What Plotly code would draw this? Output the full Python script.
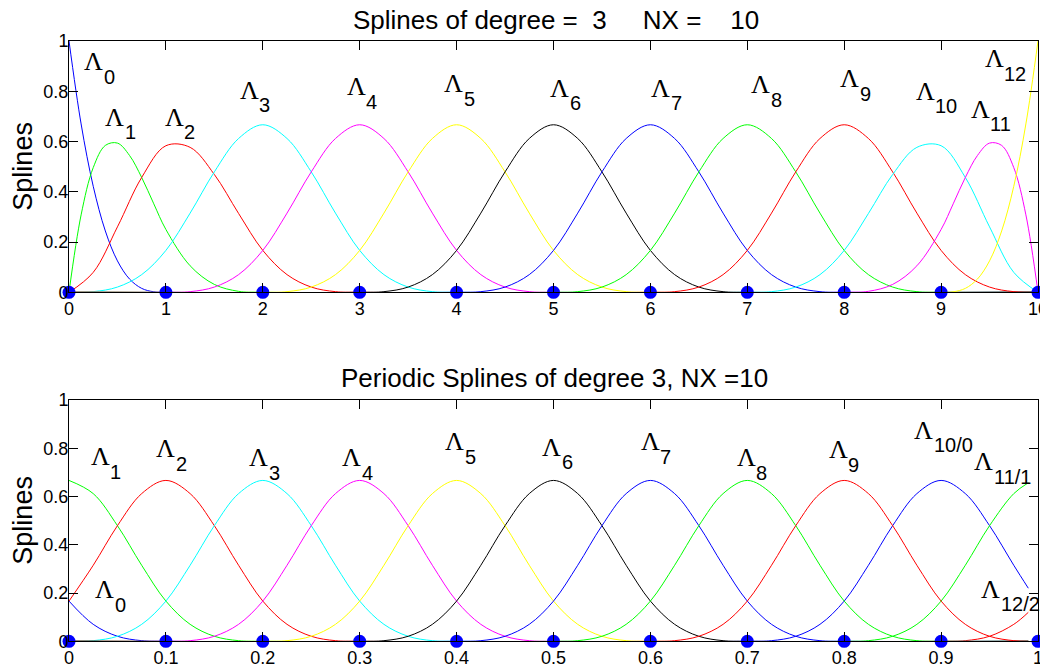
import plotly.graph_objects as go

W, H = 1048, 668          # browser window
OFF = 8                   # page body margin pushes the figure 8 px right and down
FW, FH = W - OFF, H - OFF
COLORS = ["#0000ff", "#00ff00", "#ff0000", "#00ffff", "#ff00ff", "#ffff00", "#000000"]

# ---- data ----
# interior cubic spline shape: offset (in knot spacings) from its peak, and height
bump_offsets = [-2, -1.75, -1.5, -1.25, -1, -0.75, -0.5, -0.25, 0,
                0.25, 0.5, 0.75, 1, 1.25, 1.5, 1.75, 2]
bump_values = [0, 0.0026, 0.0208, 0.0703, 0.1667, 0.3151, 0.4792, 0.6120, 0.6667,
               0.6120, 0.4792, 0.3151, 0.1667, 0.0703, 0.0208, 0.0026, 0]

# top panel (clamped splines, knots 0..10)
top_knots = [0, 1, 2, 3, 4, 5, 6, 7, 8, 9, 10]
lam0_x = [0, 0.125, 0.25, 0.375, 0.5, 0.625, 0.75, 0.875, 1]
lam0_y = [1, 0.6699, 0.4219, 0.2441, 0.125, 0.0527, 0.0156, 0.0020, 0]
lam1_x = [0, 0.125, 0.25, 0.375, 0.5, 0.625, 0.75, 0.875, 1, 1.25, 1.5, 1.75, 2]
lam1_y = [0, 0.3081, 0.4961, 0.5845, 0.5938, 0.5444, 0.4570, 0.3521, 0.25,
          0.1055, 0.0313, 0.0039, 0]
lam2_x = [0, 0.25, 0.5, 0.75, 1, 1.25, 1.5, 1.75, 2, 2.25, 2.5, 2.75, 3]
lam2_y = [0, 0.0794, 0.2604, 0.4570, 0.5833, 0.5768, 0.4688, 0.3138, 0.1667,
          0.0703, 0.0208, 0.0026, 0]
top_centers = [2, 3, 4, 5, 6, 7, 8]          # peaks of Lambda_3 .. Lambda_9
top_xticks = [0, 1, 2, 3, 4, 5, 6, 7, 8, 9, 10]
top_xticktext = ["0", "1", "2", "3", "4", "5", "6", "7", "8", "9", "10"]

# bottom panel (periodic splines on [0,1], NX = 10)
per_h = 0.1
per_centers = [0.9, 0.0, 0.1, 0.2, 0.3, 0.4, 0.5, 0.6, 0.7, 0.8]   # Lambda_0 .. Lambda_9
per_x_end = 0.99
per_end_values = [0.22, 0.657, 0.12, 0, 0, 0, 0, 0, 0, 0]
per_knots = [0, 0.1, 0.2, 0.3, 0.4, 0.5, 0.6, 0.7, 0.8, 0.9, 1.0]
per_xticktext = ["0", "0.1", "0.2", "0.3", "0.4", "0.5", "0.6", "0.7", "0.8", "0.9", "1"]

yticks = [0, 0.2, 0.4, 0.6, 0.8, 1]
yticktext = ["0", "0.2", "0.4", "0.6", "0.8", "1"]

# labels: (subscript, x, y of the Lambda centre)
top_labels = [("0", 0.253, 0.918), ("1", 0.470, 0.696), ("2", 1.084, 0.696),
              ("3", 1.858, 0.805), ("4", 2.962, 0.818), ("5", 3.973, 0.830),
              ("6", 5.067, 0.812), ("7", 6.109, 0.812), ("8", 7.141, 0.825),
              ("9", 8.055, 0.849), ("10", 8.834, 0.801), ("11", 9.402, 0.729),
              ("12", 9.551, 0.930)]
bot_labels = [("0", 0.037, 0.213), ("1", 0.0325, 0.764), ("2", 0.100, 0.799),
              ("3", 0.196, 0.760), ("4", 0.292, 0.760), ("5", 0.398, 0.826),
              ("6", 0.498, 0.805), ("7", 0.600, 0.826), ("8", 0.699, 0.760),
              ("9", 0.794, 0.793), ("10/0", 0.882, 0.874), ("11/1", 0.944, 0.745),
              ("12/2", 0.951, 0.215)]

# ---- build figure ----
fig = go.Figure()


def full_range(xs, ys, lo, hi):
    pts = {round(x, 6): y for x, y in zip(xs, ys) if lo <= x <= hi}
    pts.setdefault(lo, 0.0)
    pts.setdefault(hi, 0.0)
    k = sorted(pts)
    return k, [pts[x] for x in k]


top_curves = [(lam0_x, lam0_y), (lam1_x, lam1_y), (lam2_x, lam2_y)]
for c in top_centers:
    top_curves.append(([c + o for o in bump_offsets], bump_values))
for xs, ys in [(lam2_x, lam2_y), (lam1_x, lam1_y), (lam0_x, lam0_y)]:
    top_curves.append(([10 - x for x in xs], ys))

for i, (xs, ys) in enumerate(top_curves):
    x, y = full_range(xs, ys, 0, 10)
    fig.add_trace(go.Scatter(x=x, y=y, mode="lines", xaxis="x", yaxis="y",
                             line=dict(color=COLORS[i % 7], width=1, shape="spline"),
                             showlegend=False, hoverinfo="skip"))

for i, c in enumerate(per_centers):
    pts = {}
    for shift in (-1, 0, 1):
        for o, v in zip(bump_offsets, bump_values):
            x = round(c + shift + o * per_h, 6)
            if 0 <= x <= per_x_end:
                pts[x] = v
    pts.setdefault(0.0, 0.0)
    pts[per_x_end] = per_end_values[i]
    xs = sorted(pts)
    fig.add_trace(go.Scatter(x=xs, y=[pts[x] for x in xs], mode="lines",
                             xaxis="x2", yaxis="y2",
                             line=dict(color=COLORS[i % 7], width=1, shape="spline"),
                             showlegend=False, hoverinfo="skip"))

fig.add_trace(go.Scatter(x=top_knots, y=[0] * len(top_knots), mode="markers",
                         xaxis="x", yaxis="y", cliponaxis=False,
                         marker=dict(color="#0000ff", size=13), showlegend=False))
fig.add_trace(go.Scatter(x=per_knots, y=[0] * len(per_knots), mode="markers",
                         xaxis="x2", yaxis="y2", cliponaxis=False,
                         marker=dict(color="#0000ff", size=13), showlegend=False))


def px_x(px):
    return (px - OFF) / FW


def px_y(py):
    return 1 - (py - OFF) / FH


L, R = px_x(69), px_x(1038)
top_dom = [px_y(292.3), px_y(41)]
bot_dom = [px_y(641.3), px_y(400)]
SANS = "Liberation Sans, Arial, Helvetica, sans-serif"
tickfont = dict(family=SANS, size=18, color="black")
axcommon = dict(showline=True, linecolor="black", linewidth=1, mirror="ticks",
                ticks="inside", ticklen=9, tickcolor="black", showgrid=False,
                zeroline=False, tickfont=tickfont, ticklabeloverflow="allow")

annotations = []
for labels, xr, yr in [(top_labels, "x", "y"), (bot_labels, "x2", "y2")]:
    for sub, x, y in labels:
        annotations.append(dict(x=x, y=y, xref=xr, yref=yr, text="Λ", showarrow=False,
                                xanchor="center", yanchor="middle",
                                font=dict(family="Liberation Serif, Times New Roman, serif",
                                          size=26, color="black")))
        annotations.append(dict(x=x, y=y, xref=xr, yref=yr, text=sub, showarrow=False,
                                xanchor="left", yanchor="middle", xshift=8, yshift=-15,
                                font=dict(family=SANS, size=20, color="black")))

annotations.append(dict(x=px_x(556), y=px_y(20), xref="paper", yref="paper",
                        text="Splines of degree =\u00a0 3\u00a0\u00a0\u00a0\u00a0 NX =\u00a0\u00a0\u00a0 10",
                        showarrow=False, xanchor="center", yanchor="middle",
                        font=dict(family=SANS, size=26, color="black")))
annotations.append(dict(x=px_x(554), y=px_y(378), xref="paper", yref="paper",
                        text="Periodic Splines of degree 3, NX =10",
                        showarrow=False, xanchor="center", yanchor="middle",
                        font=dict(family=SANS, size=26, color="black")))
for dom in (top_dom, bot_dom):
    annotations.append(dict(x=px_x(23), y=(dom[0] + dom[1]) / 2, xref="paper", yref="paper",
                            text="Splines", textangle=-90, showarrow=False,
                            xanchor="center", yanchor="middle",
                            font=dict(family=SANS, size=27, color="black")))

yax = dict(range=[0, 1], tickvals=yticks, ticktext=yticktext, ticklabelstandoff=-4, **axcommon)
fig.update_layout(
    width=FW, height=FH, autosize=False,
    margin=dict(l=0, r=0, t=0, b=0, pad=0, autoexpand=False),
    paper_bgcolor="white", plot_bgcolor="white",
    xaxis=dict(domain=[L, R], range=[0, 10], tickvals=top_xticks, ticktext=top_xticktext,
               anchor="y", **axcommon),
    yaxis=dict(domain=top_dom, anchor="x", **yax),
    xaxis2=dict(domain=[L, R], range=[0, 1], tickvals=per_knots, ticktext=per_xticktext,
                anchor="y2", **axcommon),
    yaxis2=dict(domain=bot_dom, anchor="x2", **yax),
    annotations=annotations,
)

fig.write_html("out.html")
